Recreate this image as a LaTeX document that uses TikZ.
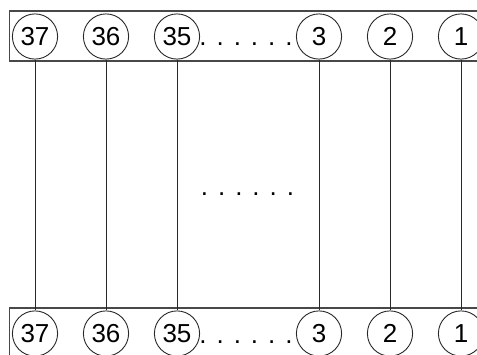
\documentclass[tikz,border=0pt]{standalone}
\usepackage{fontspec}
\setmainfont{Liberation Sans}
\usetikzlibrary{positioning}
\definecolor{ink}{RGB}{40,40,40}
\begin{document}
\begin{tikzpicture}[x=0.5pt,y=-0.5pt,
  every node/.style={font=\fontsize{13}{15}\selectfont},
  bar/.style={draw=ink!85, line width=0.6pt},
  ball/.style={circle, draw=ink, line width=0.45pt, fill=white, inner sep=0pt, minimum size=22.6pt},
  link/.style={draw=ink, line width=0.45pt},
  gap/.style={inner sep=0pt, anchor=base}
]
  \useasboundingbox (0,0) rectangle (477,354);
  \clip (0,0) rectangle (477,354);

  \draw[bar] (9.5,11) rectangle (495,61);
  \draw[bar] (9.5,308) rectangle (495,380);

  \foreach \n/\x in {37/35,36/106,35/177,3/319,2/390,1/461} {
    \node[ball] (t\n) at (\x,36.5)  {\n};
    \node[ball] (b\n) at (\x,333.5) {\n};
    \draw[link] (t\n) -- (b\n);
  }

  \newcommand{\sixdots}{.\hspace{5pt}.\hspace{5pt}.\hspace{5pt}.\hspace{5pt}.\hspace{5pt}.}
  \node[gap] (topdots) at (246,45)    {\sixdots};
  \node[gap] (middots) at (247.5,195) {\sixdots};
  \node[gap] (botdots) at (246,343.5) {\sixdots};
\end{tikzpicture}
\end{document}
